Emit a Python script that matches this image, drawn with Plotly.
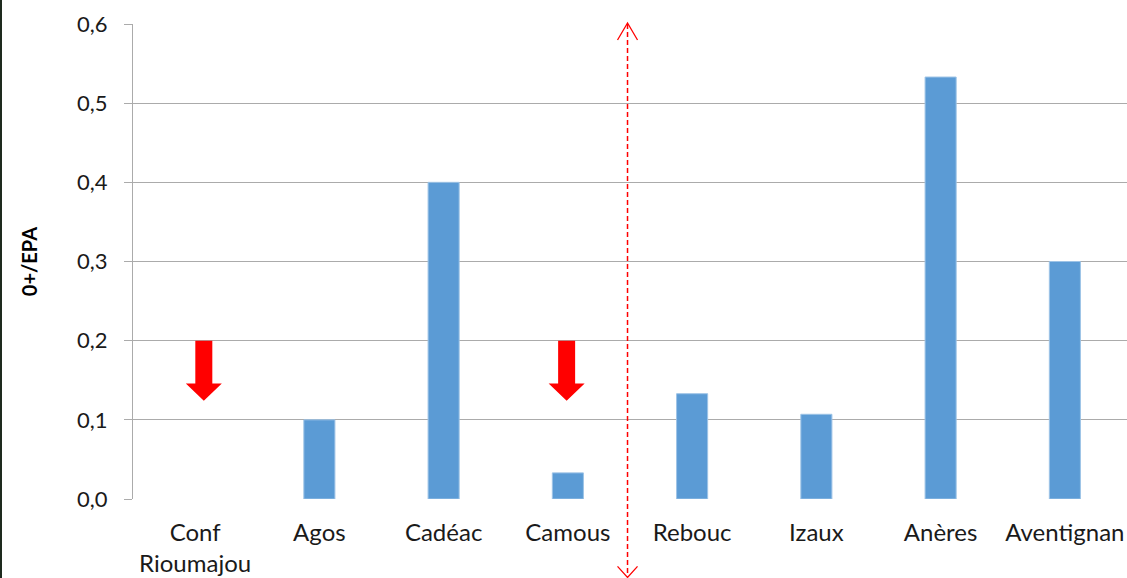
import plotly.graph_objects as go

categories = ["Conf<br>Rioumajou", "Agos", "Cadéac", "Camous", "Rebouc", "Izaux", "Anères", "Aventignan"]
values = [0.0, 0.1, 0.4, 0.033, 0.133, 0.107, 0.533, 0.3]
y_ticks = [0.0, 0.1, 0.2, 0.3, 0.4, 0.5, 0.6]
y_ticktext = ["0,0", "0,1", "0,2", "0,3", "0,4", "0,5", "0,6"]
arrow_x = [0.07, 2.99]          # category positions of the red "decline" arrows
arrow_top, arrow_neck, arrow_tip = 0.2, 0.146, 0.124
separator_x = 3.48

xpos = list(range(len(categories)))

fig = go.Figure()
fig.add_trace(go.Bar(
    x=xpos, y=values, width=0.25,
    marker=dict(color="#5b9bd5",
                line=dict(color="#9dc3e6", width=[0 if v == 0 else 1 for v in values])),
    showlegend=False, hoverinfo="skip",
))

shapes = []
for ax in arrow_x:
    path = (f"M-8.5,{arrow_top} L8.5,{arrow_top} L8.5,{arrow_neck} L18,{arrow_neck} "
            f"L0,{arrow_tip} L-18,{arrow_neck} L-8.5,{arrow_neck} Z")
    shapes.append(dict(type="path", xref="x", yref="y", xsizemode="pixel", xanchor=ax,
                       path=path, fillcolor="#ff0000", line=dict(width=0), layer="above"))

# dashed separator with open arrow heads
shapes.append(dict(type="line", xref="x", yref="paper", x0=separator_x, x1=separator_x,
                   y0=1.0, y1=-0.163, line=dict(color="#ff0000", width=1.5, dash="5px,3px")))
shapes.append(dict(type="path", xref="x", yref="paper", xsizemode="pixel", ysizemode="pixel",
                   xanchor=separator_x, yanchor=1.0, path="M-10,-16 L0,1 L10,-16",
                   line=dict(color="#ff0000", width=1.3)))
shapes.append(dict(type="path", xref="x", yref="paper", xsizemode="pixel", ysizemode="pixel",
                   xanchor=separator_x, yanchor=-0.163, path="M-10,10 L0,-1 L10,10",
                   line=dict(color="#ff0000", width=1.3)))
# thin dark strip at left edge
shapes.append(dict(type="rect", xref="paper", yref="paper", x0=-133/994, x1=-131/994,
                   y0=-0.2, y1=1.06, fillcolor="#1e2a1e", line=dict(width=0)))

fig.update_layout(
    width=1127, height=578,
    margin=dict(l=133, r=0, t=24, b=79),
    paper_bgcolor="white", plot_bgcolor="white",
    font=dict(family="Lato, Carlito, Calibri, sans-serif", color="#1a1a1a", size=22),
    shapes=shapes,
    xaxis=dict(
        range=[-0.5, 7.5], tickmode="array", tickvals=xpos, ticktext=categories,
        showgrid=False, zeroline=False, showline=False, ticks="",
        tickfont=dict(size=24, color="#1a1a1a"), ticklabelstandoff=17,
    ),
    yaxis=dict(
        range=[0, 0.6], tickmode="array", tickvals=y_ticks, ticktext=y_ticktext,
        showgrid=True, gridcolor="#ababab", gridwidth=1,
        zeroline=False, showline=True, linecolor="#ababab", linewidth=1,
        ticks="outside", ticklen=8, tickcolor="#ababab",
        tickfont=dict(size=22, color="#1a1a1a"), ticklabelstandoff=12,
        title=dict(text="<b>0+/EPA</b>", font=dict(size=20, color="#000000"), standoff=34),
    ),
)

fig.write_html(
    "out.html",
    config={"displayModeBar": False},
    post_script=("document.body.style.margin='0';"
                 "document.body.style.overflow='hidden';"
                 "document.documentElement.style.overflow='hidden';"),
)
